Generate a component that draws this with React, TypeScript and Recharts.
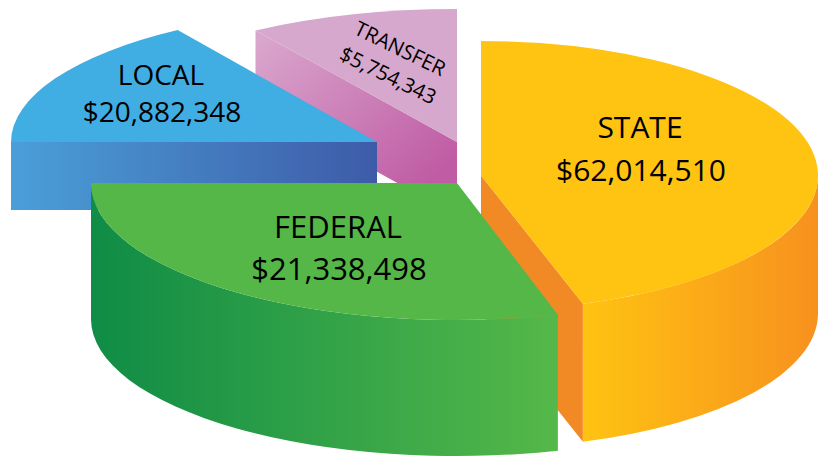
import { Pie, PieChart } from 'recharts';

// paint order: state first so that the federal slab sits in front of its cut face
const names = ['STATE', 'TRANSFER', 'LOCAL', 'FEDERAL'];
const amounts = [62014510, 5754343, 20882348, 21338498];
// the slices in the picture are not proportional to the amounts, so this is the share as drawn (degrees)
const drawnShares = [163, 33, 57, 107];

const data = names.map((name, i) => ({ name, amount: amounts[i], share: drawnShares[i] }));

const CX = 457;
const CY = 142;
const RADIUS = 367;

const sliceStyles = [
  { dx: 24, dy: 33.5, rx: 337, ry: 134.5, depth: 138, trimStart: 0.6, trimEnd: 0, top: '#ffc312', arc: 'url(#stateWall)', wall: '#f18a25', cut: 'start' },
  { dx: 0, dy: 0, rx: 370, ry: 133, depth: 74, trimStart: 0, trimEnd: 0, top: '#d6a8cd', wall: 'url(#transferWall)', cut: 'end' },
  { dx: -80, dy: 0, rx: 366, ry: 133.5, depth: 68, trimStart: 0, trimEnd: 0, top: '#40ade3', wall: 'url(#localWall)', cut: 'end' },
  { dx: 0, dy: 41, rx: 366, ry: 137, depth: 136, trimStart: 0, trimEnd: -1, top: '#54b748', arc: 'url(#federalWall)' },
];

const labelStyles = [
  { x: 640, y: 138, x2: 641, y2: 181, size: 30, rotate: 0 },
  { x: 397, y: 55, x2: 385, y2: 82, size: 20.5, rotate: 26 },
  { x: 161, y: 85, x2: 162, y2: 122, size: 28, rotate: 0 },
  { x: 338, y: 238, x2: 339, y2: 280, size: 31, rotate: 0 },
];

const RAD = Math.PI / 180;

function WallGradients() {
  return (
    <defs>
      <linearGradient id="transferWall" gradientUnits="userSpaceOnUse" x1="270" y1="30" x2="420" y2="190">
        <stop offset="0" stopColor="#d9a6cd" />
        <stop offset="1" stopColor="#c05ca4" />
      </linearGradient>
      <linearGradient id="localWall" gradientUnits="userSpaceOnUse" x1="10" y1="0" x2="377" y2="0">
        <stop offset="0" stopColor="#4a9fd9" />
        <stop offset="1" stopColor="#3e5ba8" />
      </linearGradient>
      <linearGradient id="federalWall" gradientUnits="userSpaceOnUse" x1="91" y1="0" x2="558" y2="0">
        <stop offset="0" stopColor="#0f8c46" />
        <stop offset="1" stopColor="#55b849" />
      </linearGradient>
      <linearGradient id="stateWall" gradientUnits="userSpaceOnUse" x1="583" y1="0" x2="818" y2="0">
        <stop offset="0" stopColor="#ffc312" />
        <stop offset="1" stopColor="#f7911e" />
      </linearGradient>
    </defs>
  );
}

// Recharts hands over the circular sector, this flattens it into a slab
function SlabSector(props: any) {
  const { cx, cy, outerRadius, index } = props;
  const s = sliceStyles[index];
  const turn = props.startAngle >= 360 ? 360 : 0;
  const startAngle = props.startAngle - turn + s.trimStart;
  const endAngle = props.endAngle - turn + s.trimEnd;
  const rx = (outerRadius * s.rx) / RADIUS;
  const ry = (outerRadius * s.ry) / RADIUS;
  const ox = cx + s.dx;
  const oy = cy + s.dy;
  const at = (deg: number, down = 0) =>
    `${ox + rx * Math.cos(deg * RAD)} ${oy - ry * Math.sin(deg * RAD) + down}`;
  const large = endAngle - startAngle > 180 ? 1 : 0;

  const topPath = `M${ox} ${oy} L${at(startAngle)} A${rx} ${ry} 0 ${large} 0 ${at(endAngle)} Z`;

  const cutAngle = s.cut === 'start' ? startAngle : endAngle;
  const cutPath = `M${ox} ${oy} L${at(cutAngle)} L${at(cutAngle, s.depth)} L${ox} ${oy + s.depth} Z`;

  const a0 = Math.max(startAngle, 180);
  const a1 = Math.min(endAngle, 360);
  const arcPath =
    `M${at(a0)} A${rx} ${ry} 0 0 0 ${at(a1)} ` +
    `L${at(a1, s.depth)} A${rx} ${ry} 0 0 1 ${at(a0, s.depth)} Z`;

  return (
    <g>
      {index === 0 && <WallGradients />}
      {s.cut && <path d={cutPath} fill={s.wall} />}
      {s.arc && <path d={arcPath} fill={s.arc} />}
      <path d={topPath} fill={s.top} />
    </g>
  );
}

function SliceLabel(props: any) {
  const { index } = props;
  const l = labelStyles[index];
  const line = (x: number, y: number, str: string, key: string) => (
    <text
      key={key}
      x={x}
      y={y}
      textAnchor="middle"
      fontFamily="'Open Sans', sans-serif"
      fontSize={l.size}
      fill="#000"
      transform={l.rotate ? `rotate(${l.rotate} ${x} ${y})` : undefined}
    >
      {str}
    </text>
  );
  return (
    <g>
      {line(l.x, l.y, names[index], 'name')}
      {line(l.x2, l.y2, `$${amounts[index].toLocaleString('en-US')}`, 'amount')}
    </g>
  );
}

export default function App() {
  return (
    <div style={{ position: 'absolute', left: 0, top: 0, width: 828, height: 456, background: '#fff' }}>
      <PieChart width={828} height={456} margin={{ top: 0, right: 0, bottom: 0, left: 0 }}>
        <Pie
          data={data}
          dataKey="share"
          nameKey="name"
          cx={CX}
          cy={CY}
          outerRadius={RADIUS}
          startAngle={287}
          endAngle={647}
          stroke="none"
          shape={SlabSector}
          label={SliceLabel}
          labelLine={false}
          isAnimationActive={false}
        />
      </PieChart>
    </div>
  );
}
